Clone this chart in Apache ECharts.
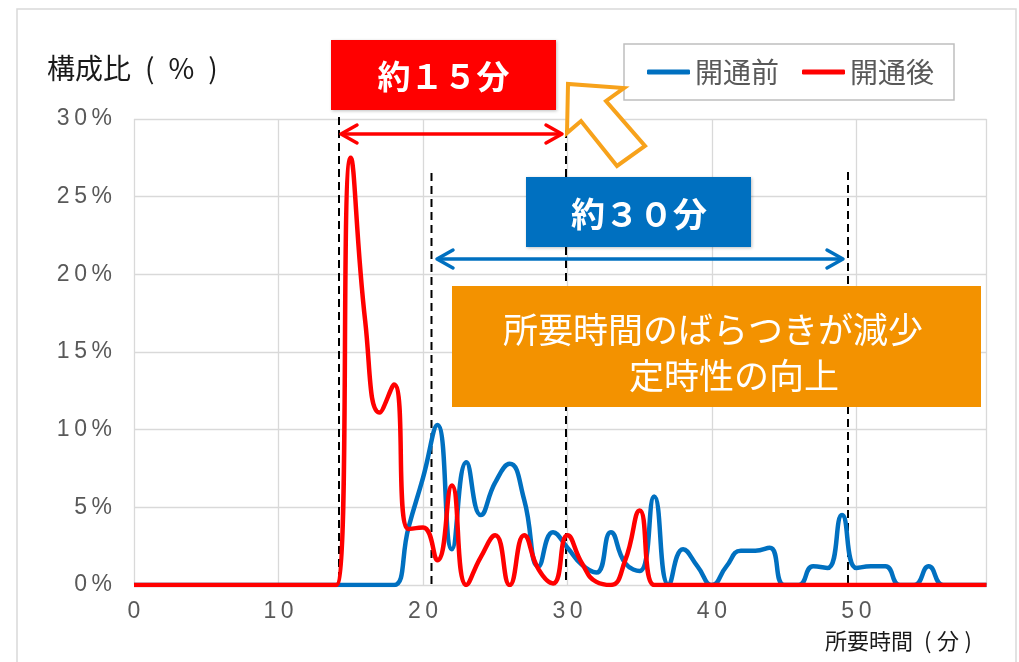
<!DOCTYPE html>
<html>
<head>
<meta charset="utf-8">
<script src="https://cdn.jsdelivr.net/npm/echarts@6/dist/echarts.min.js"></script>
<style>
html,body{margin:0;padding:0;background:#fff;}
#c{width:1019px;height:662px;}
</style>
</head>
<body>
<div id="c"></div>
<script>
// minutes 0..59
const minutes = Array.from({length: 60}, (_, i) => i);
const seriesNames = ['開通前', '開通後'];
// 開通前 (before opening), % share
const before = [0,0,0,0,0,0,0,0,0,0, 0,0,0,0,0,0,0,0,0,3.7, 6.9,10.3,2.3,7.9,4.5,6.6,7.8,5.5,1.2,3.4, 2.4,1.3,0.8,3.4,1.4,0.9,5.7,0,2.3,1.2, 0,1.2,2.2,2.2,2.4,0,0,1.2,1.1,4.5, 1.1,1.2,1.2,0,0,1.2,0,0,0,0];
// 開通後 (after opening), % share
const after = [0,0,0,0,0,0,0,0,0,0, 0,0,0,0,0,27.5,17,11.1,12.9,3.6, 3.7,1.6,6.4,0,1.8,3.2,0,3.2,1.0,0.1, 3.2,1.4,0.2,0,1.6,4.8,0,0,0,0, 0,0,0,0,0,0,0,0,0,0, 0,0,0,0,0,0,0,0,0,0];
const xTicks = [0,10,20,30,40,50];
const yTicks = [0,5,10,15,20,25,30];

const spaced = s => String(s).split('').join('\u2009');
const chart = echarts.init(document.getElementById('c'), null, {renderer: 'canvas'});
const jp = '"Noto Sans CJK JP", sans-serif';
const lat = '"Liberation Sans", "Noto Sans CJK JP", sans-serif';
const orange = '#F39200';
const arrowOrange = '#F7A21B';

const option = {
  backgroundColor: '#ffffff',
  animation: false,
  grid: {left: 134, right: 32.5, top: 119, bottom: 77, containLabel: false},
  legend: {
    left: 624, top: 44,
    padding: [14, 20, 14, 23],
    itemGap: 23, itemWidth: 43, itemHeight: 5,
    icon: 'roundRect',
    borderColor: '#bfbfbf', borderWidth: 1.5, backgroundColor: '#fff',
    textStyle: {fontSize: 28, color: '#595959', fontFamily: jp},
    data: seriesNames
  },
  xAxis: {
    type: 'value', min: 0, max: 59, interval: 10,
    axisLine: {show: false}, axisTick: {show: false},
    splitLine: {show: true, lineStyle: {color: '#d9d9d9', width: 1.3}},
    axisLabel: {
      margin: 15, fontSize: 23, color: '#595959', fontFamily: lat,
      formatter: v => xTicks.includes(v) ? spaced(v) : ''
    }
  },
  yAxis: {
    type: 'value', min: 0, max: 30, interval: 5,
    axisLine: {show: false}, axisTick: {show: false},
    splitLine: {show: true, lineStyle: {color: '#d9d9d9', width: 1.3}},
    axisLabel: {
      margin: 22, fontSize: 23, color: '#595959', fontFamily: lat,
      formatter: v => yTicks.includes(v) ? spaced(v + '%') : ''
    }
  },
  series: [
    {name: seriesNames[0], type: 'line', smooth: 0.5, showSymbol: false, symbol: 'none',
     lineStyle: {color: '#0070C0', width: 4.5}, itemStyle: {color: '#0070C0'},
     data: minutes.map((m, i) => [m, before[i]]), z: 3},
    {name: seriesNames[1], type: 'line', smooth: 0.5, showSymbol: false, symbol: 'none',
     lineStyle: {color: '#FF0000', width: 4.5}, itemStyle: {color: '#FF0000'},
     data: minutes.map((m, i) => [m, after[i]]), z: 4}
  ],
  graphic: [
    // outer frame
    {type: 'rect', shape: {x: 17, y: 9, width: 999, height: 700}, style: {fill: 'none', stroke: '#d9d9d9', lineWidth: 1.5}, z: 0, silent: true},
    // axis titles
    {type: 'text', left: 47, top: 54, style: {text: '構成比\u2002(\u2002%\u2002)', font: '28px ' + jp, fill: '#1a1a1a'}, z: 10},
    {type: 'text', left: 825, top: 630, style: {text: '所要時間\u2002(\u2005分\u2005)', font: '22px ' + jp, fill: '#1a1a1a'}, z: 10},
    // dashed guide lines
    {type: 'line', shape: {x1: 339, y1: 117, x2: 339, y2: 585}, style: {stroke: '#000', lineWidth: 2, lineDash: [8, 5]}, z: 1},
    {type: 'line', shape: {x1: 431.5, y1: 173, x2: 431.5, y2: 585}, style: {stroke: '#000', lineWidth: 2, lineDash: [8, 5]}, z: 1},
    {type: 'line', shape: {x1: 566, y1: 130, x2: 566, y2: 585}, style: {stroke: '#000', lineWidth: 2, lineDash: [8, 5]}, z: 1},
    {type: 'line', shape: {x1: 848, y1: 172, x2: 848, y2: 585}, style: {stroke: '#000', lineWidth: 2, lineDash: [8, 5]}, z: 1},
    // red double arrow
    {type: 'line', shape: {x1: 341, y1: 134, x2: 562, y2: 134}, style: {stroke: '#FF0000', lineWidth: 3.5}, z: 10},
    {type: 'polyline', shape: {points: [[357, 125], [341, 134], [357, 143]]}, style: {stroke: '#FF0000', lineWidth: 3.5, fill: 'none', lineCap: 'round', lineJoin: 'round'}, z: 10},
    {type: 'polyline', shape: {points: [[546, 125], [562, 134], [546, 143]]}, style: {stroke: '#FF0000', lineWidth: 3.5, fill: 'none', lineCap: 'round', lineJoin: 'round'}, z: 10},
    // blue double arrow
    {type: 'line', shape: {x1: 437, y1: 259, x2: 843, y2: 259}, style: {stroke: '#0070C0', lineWidth: 3.5}, z: 10},
    {type: 'polyline', shape: {points: [[453, 250], [437, 259], [453, 268]]}, style: {stroke: '#0070C0', lineWidth: 3.5, fill: 'none', lineCap: 'round', lineJoin: 'round'}, z: 10},
    {type: 'polyline', shape: {points: [[827, 250], [843, 259], [827, 268]]}, style: {stroke: '#0070C0', lineWidth: 3.5, fill: 'none', lineCap: 'round', lineJoin: 'round'}, z: 10},
    // red box
    {type: 'rect', shape: {x: 331, y: 40, width: 225, height: 70}, style: {fill: '#FF0000', shadowBlur: 3, shadowColor: 'rgba(0,0,0,0.25)', shadowOffsetX: 1, shadowOffsetY: 1}, z: 10},
    {type: 'text', x: 443.5, y: 76, style: {text: '約１５分', font: 'bold 33px ' + jp, fill: '#fff', textAlign: 'center', textVerticalAlign: 'middle'}, z: 11},
    // blue box
    {type: 'rect', shape: {x: 526, y: 177, width: 225, height: 70}, style: {fill: '#0070C0', shadowBlur: 3, shadowColor: 'rgba(0,0,0,0.25)', shadowOffsetX: 1, shadowOffsetY: 1}, z: 10},
    {type: 'text', x: 639, y: 214, style: {text: '約３０分', font: 'bold 34px ' + jp, fill: '#fff', textAlign: 'center', textVerticalAlign: 'middle'}, z: 11},
    // orange box
    {type: 'rect', shape: {x: 452, y: 286, width: 529, height: 121}, style: {fill: orange}, z: 10},
    {type: 'text', x: 713, y: 330, style: {text: '所要時間のばらつきが減少', font: '35px ' + jp, fill: '#fff', textAlign: 'center', textVerticalAlign: 'middle'}, z: 11},
    {type: 'text', x: 734, y: 376, style: {text: '定時性の向上', font: '35px ' + jp, fill: '#fff', textAlign: 'center', textVerticalAlign: 'middle'}, z: 11},
    // hollow arrow pointing up-left
    {type: 'polygon', shape: {points: [[568, 84], [567, 133], [581, 121], [617, 166], [645, 146], [606, 101], [624, 88]]},
     style: {fill: '#fff', stroke: arrowOrange, lineWidth: 4, lineJoin: 'miter'}, z: 12}
  ]
};
chart.setOption(option);
</script>
</body>
</html>
